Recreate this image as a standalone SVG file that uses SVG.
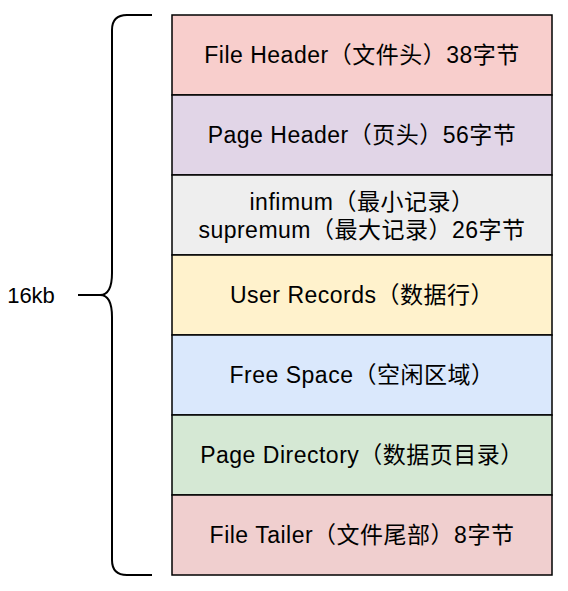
<svg xmlns="http://www.w3.org/2000/svg" width="568" height="591" viewBox="0 0 568 591">
<style>
.box{stroke:#000;stroke-width:1.5}
.t{font-family:"Liberation Sans","Noto Sans CJK SC",sans-serif;font-size:23px;fill:#000;text-anchor:middle;dominant-baseline:central;letter-spacing:0.5px}
</style>
<rect width="568" height="591" fill="#fff"/>
<g id="connectors">
<path d="M152,15 H127 Q112,15 112,30 V273 Q112,295 100,295 H78 M100,295 Q112,295 112,317 V560 Q112,575 127,575 H152" fill="none" stroke="#000" stroke-width="2"/>
</g>
<g id="n0"><rect class="box" x="172" y="15" width="380" height="80" fill="#f8cecc" stroke="#36393d"/><text class="t" x="362" y="55">File Header（文件头）38字节</text></g>
<g id="n1"><rect class="box" x="172" y="95" width="380" height="80" fill="#e1d5e7"/><text class="t" x="362" y="135">Page Header（页头）56字节</text></g>
<g id="n2"><rect class="box" x="172" y="175" width="380" height="80" fill="#eeeeee"/><text class="t" x="362" y="202">infimum（最小记录）</text><text class="t" x="362" y="230">supremum（最大记录）26字节</text></g>
<g id="n3"><rect class="box" x="172" y="255" width="380" height="80" fill="#fff2cc"/><text class="t" x="362" y="295">User Records（数据行）</text></g>
<g id="n4"><rect class="box" x="172" y="335" width="380" height="80" fill="#dae8fc"/><text class="t" x="362" y="375">Free Space（空闲区域）</text></g>
<g id="n5"><rect class="box" x="172" y="415" width="380" height="80" fill="#d5e8d4"/><text class="t" x="362" y="455">Page Directory（数据页目录）</text></g>
<g id="n6"><rect class="box" x="172" y="495" width="380" height="80" fill="#f0cfcf"/><text class="t" x="362" y="535">File Tailer（文件尾部）8字节</text></g>
<g id="label"><text class="t" x="31" y="295" style="font-size:22px;letter-spacing:0">16kb</text></g>
</svg>
